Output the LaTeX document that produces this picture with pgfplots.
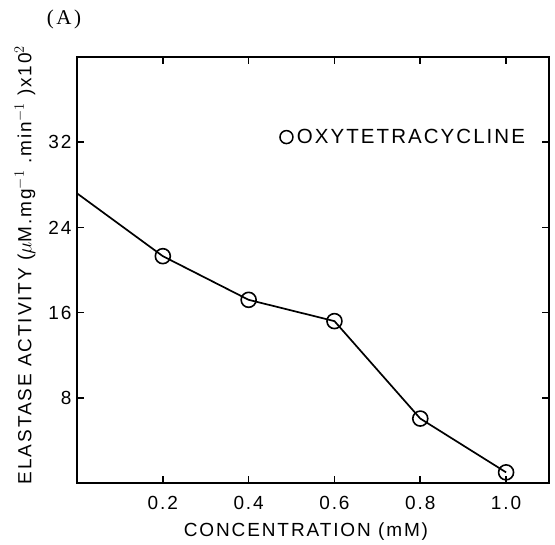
\documentclass[border=0pt]{standalone}
\usepackage{fontspec}
\setmainfont{Liberation Sans}[LetterSpace=10]
\newfontfamily\serifA{Liberation Serif}[LetterSpace=12]
\usepackage{pgfplots}
\pgfplotsset{compat=1.18}
\begin{document}
\begin{tikzpicture}
\begin{axis}[
  name=ax,
  scale only axis,
  width=472bp, height=426bp,
  xmin=0, xmax=1.1, ymin=0, ymax=40,
  xtick={0.2,0.4,0.6,0.8,1.0},
  xticklabels={0.2,0.4,0.6,0.8,1.0},
  ytick={8,16,24,32},
  yticklabels={8,16,24,32},
  tick align=inside,
  major tick length=7bp,
  axis line style={line width=1.8bp},
  tick style={line width=1.6bp,black},
  /pgf/number format/assume math mode=true,
  tick label style={font=\fontsize{19bp}{22bp}\selectfont},
  xticklabel style={yshift=-10bp},
  yticklabel style={xshift=-2bp},
  xlabel={CONCENTRATION (mM)},
  ylabel={ELASTASE ACTIVITY ($\mu$M.mg$^{-1}$ .min$^{-1}$ )x10$^{2}$},
  label style={font=\fontsize{19bp}{22bp}\selectfont},
  xlabel style={at={(axis description cs:0.485,-0.115)}, anchor=center},
  ylabel style={at={(axis description cs:-0.110,0.512)}, anchor=center},
  legend style={at={(axis description cs:0.428,0.812)}, anchor=west, draw=none, fill=none,
    inner sep=0pt, font=\fontsize{20.5bp}{24bp}\selectfont,
    nodes={inner sep=1bp}},
  legend image code/.code={\draw[line width=1.5bp,fill=white] (6.5bp,0bp) circle (6.5bp); \path[draw=none] (0bp,0bp) -- (16bp,0bp);},
]
\addplot[black, line width=1.7bp, mark=o, mark size=7.5bp,
  mark options={fill=white, line width=1.6bp}, mark indices={2,3,4,5,6}]
  coordinates {(0,27.2) (0.2,21.3) (0.4,17.2) (0.6,15.2) (0.8,6.05) (1.0,1.0)};
\addlegendentry{OXYTETRACYCLINE}
\end{axis}
\path (ax.north west) ++(-13bp,38bp) node[font={\serifA\fontsize{21bp}{24bp}\selectfont}] {(A)};
\path (ax.south west) ++(-77bp,-62bp) rectangle ++(555bp,545bp);
\end{tikzpicture}
\end{document}
